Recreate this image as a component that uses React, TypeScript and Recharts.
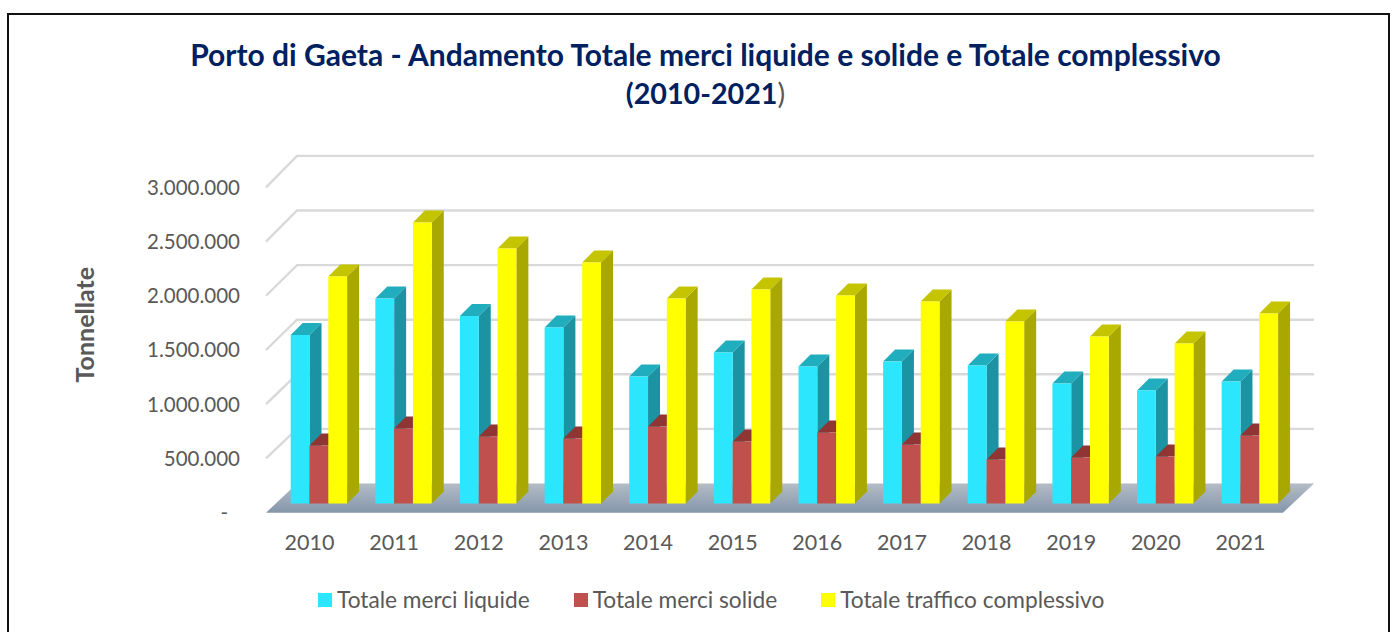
import React from "react";
import { BarChart, Bar, XAxis, YAxis, Legend, CartesianGrid } from "recharts";

const years = ["2010","2011","2012","2013","2014","2015","2016","2017","2018","2019","2020","2021"];
const liquide = [1543000,1877000,1717000,1612000,1163000,1383000,1255000,1300000,1264000,1099000,1035000,1117000];
const solide = [531000,687000,614000,595000,705000,568000,650000,540000,403000,421000,430000,623000];
const totale = [2079000,2573000,2335000,2207000,1877000,1960000,1905000,1850000,1667000,1529000,1465000,1740000];
const yTicks = [0,500000,1000000,1500000,2000000,2500000,3000000];
const seriesNames = ["Totale merci liquide","Totale merci solide","Totale traffico complessivo"];
const titleLine1 = "Porto di Gaeta - Andamento Totale merci liquide e solide e Totale complessivo";
const titleLine2 = "(2010-2021";

const data = years.map((y, i) => ({ year: y, liquide: liquide[i], solide: solide[i], totale: totale[i] }));

const FONT = "Lato, sans-serif";
const GRAY = "#595959";
const BASE_Y = 503.5;

function fmt(v: number) {
  if (v === 0) return "-";
  return String(v).replace(/\B(?=(\d{3})+(?!\d))/g, ".");
}

function frontOf(y: number) {
  return 512.7 - (BASE_Y - y) * 0.9933;
}

function make3D(front: string, side: string, top: string) {
  return (props: any) => {
    const { x, y, width, height } = props;
    const d = 12;
    return (
      <g>
        <polygon points={`${x + width},${y} ${x + width + d},${y - d} ${x + width + d},${y + height - d} ${x + width},${y + height}`} fill={side} />
        <polygon points={`${x},${y} ${x + d},${y - d} ${x + width + d},${y - d} ${x + width},${y}`} fill={top} />
        <rect x={x} y={y} width={width} height={height} fill={front} />
      </g>
    );
  };
}

function gridLine(props: any) {
  const y = props.y1;
  const frontY = frontOf(y);
  const backY = y - 20;
  if (Math.abs(y - BASE_Y) < 1) {
    return <polygon key={props.key ?? y} points={`266,${frontY} 297,${backY} 1314,${backY} 1283,${frontY}`} fill="url(#floorGrad)" />;
  }
  return <polyline key={props.key ?? y} points={`266,${frontY} 297,${backY} 1314,${backY}`} fill="none" stroke="#D9D9D9" strokeWidth={2.4} />;
}

function YTick(props: any) {
  const { y, payload } = props;
  const v = payload.value;
  return (
    <text x={v === 0 ? 228 : 240} y={frontOf(y) - 0.5} textAnchor="end" dominantBaseline="central" fontFamily={FONT} fontSize={20.5} fill={GRAY}>
      {fmt(v)}
    </text>
  );
}

function XTick(props: any) {
  const { x, payload } = props;
  return (
    <text x={x - 9.5} y={542} textAnchor="middle" dominantBaseline="central" fontFamily={FONT} fontSize={21.5} fill={GRAY}>
      {payload.value}
    </text>
  );
}

function LegendContent(props: any) {
  const items = props.payload || [];
  return (
    <div style={{ display: "flex", gap: 44, fontFamily: FONT, fontSize: 22.7, color: GRAY, alignItems: "center", whiteSpace: "nowrap" }}>
      {items.map((it: any) => (
        <div key={it.value} style={{ display: "flex", alignItems: "center", gap: 5 }}>
          <span style={{ width: 14, height: 14, background: it.color, display: "inline-block" }} />
          <span>{it.value}</span>
        </div>
      ))}
    </div>
  );
}

export default function App() {
  return (
    <div style={{ position: "fixed", left: 0, top: 0, width: 1395, height: 632, overflow: "hidden", background: "#fff" }}>
      <div style={{ position: "absolute", left: 7, top: 13, width: 1379, height: 700, border: "2px solid #111" }} />
      <div style={{ position: "absolute", left: 0, top: 35, width: 1411, textAlign: "center", fontFamily: FONT, fontWeight: 700, fontSize: 30, lineHeight: "38.5px", color: "#002060" }}>
        <div>{titleLine1}</div>
        <div style={{ fontSize: 28.7 }}>{titleLine2}<span style={{ fontWeight: 400, color: GRAY }}>)</span></div>
      </div>
      <div style={{ position: "absolute", left: 0, top: 0 }}>
        <BarChart
          width={1395}
          height={632}
          data={data}
          margin={{ left: 216.7, right: 102.7, top: 175.9, bottom: 88.5 }}
          barSize={18.8}
          barGap={0}
        >
          <defs>
            <linearGradient id="floorGrad" x1="0" y1="0" x2="0" y2="1">
              <stop offset="0%" stopColor="#B4BCC6" />
              <stop offset="100%" stopColor="#8496AB" />
            </linearGradient>
          </defs>
          <CartesianGrid vertical={false} horizontal={gridLine} syncWithTicks />
          <YAxis
            width={60}
            domain={[0, 3000000]}
            ticks={yTicks}
            interval={0}
            axisLine={false}
            tickLine={false}
            tick={<YTick />}
            label={{ value: "Tonnellate", angle: -90, position: "center", dx: -162, dy: -15, style: { fontFamily: FONT, fontWeight: 700, fontSize: 25, fill: GRAY } }}
          />
          <XAxis dataKey="year" height={40} axisLine={false} tickLine={false} interval={0} tick={<XTick />} />
          <Legend
            verticalAlign="middle"
            align="center"
            wrapperStyle={{ top: 586, left: 318, width: "auto", transform: "none" }}
            content={<LegendContent />}
          />
          <Bar dataKey="liquide" name={seriesNames[0]} fill="#2CE6FD" isAnimationActive={false} shape={make3D("#2CE6FD", "#1C93A3", "#20ADBE")} />
          <Bar dataKey="solide" name={seriesNames[1]} fill="#C0504D" isAnimationActive={false} shape={make3D("#C0504D", "#8F3534", "#8F3534")} />
          <Bar dataKey="totale" name={seriesNames[2]} fill="#FFFF00" isAnimationActive={false} shape={make3D("#FFFF00", "#A8A800", "#C4C400")} />
        </BarChart>
      </div>
    </div>
  );
}
